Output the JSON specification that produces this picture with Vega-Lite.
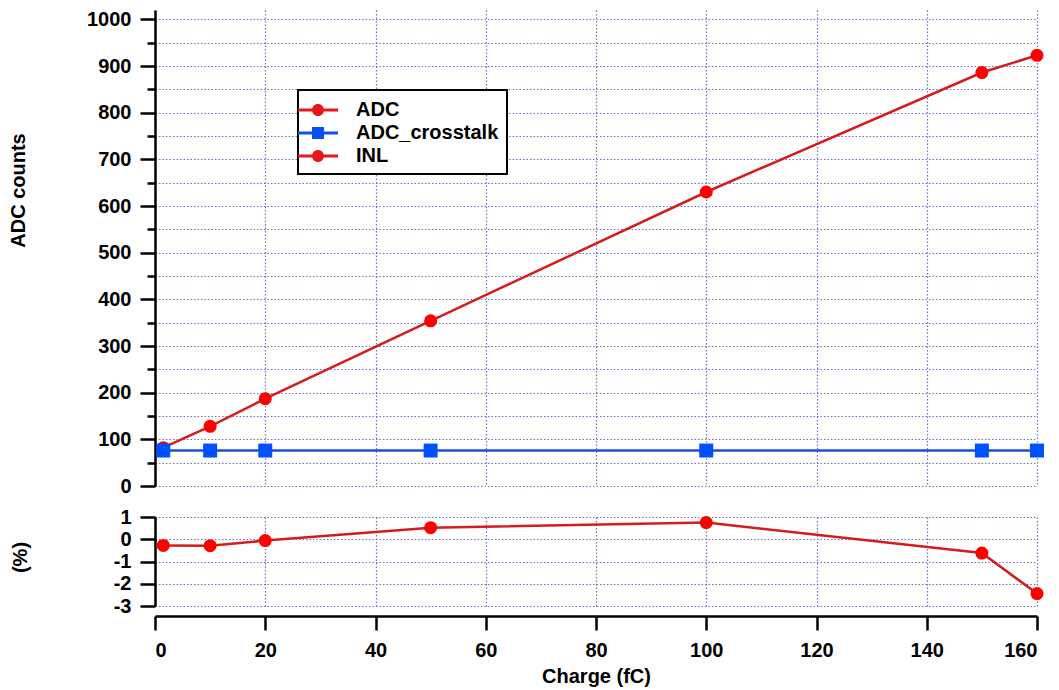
{
  "$schema": "https://vega.github.io/schema/vega-lite/v6.json",
  "padding": {"left": 8, "top": 9, "right": 5, "bottom": 5},
  "bounds": "flush",
  "spacing": 31,
  "datasets": {
    "main": [
      {"series": "ADC", "charge": 1.5, "value": 82},
      {"series": "ADC", "charge": 10, "value": 128},
      {"series": "ADC", "charge": 20, "value": 187},
      {"series": "ADC", "charge": 50, "value": 354},
      {"series": "ADC", "charge": 100, "value": 630},
      {"series": "ADC", "charge": 150, "value": 886},
      {"series": "ADC", "charge": 160, "value": 923},
      {"series": "ADC_crosstalk", "charge": 1.5, "value": 76},
      {"series": "ADC_crosstalk", "charge": 10, "value": 76},
      {"series": "ADC_crosstalk", "charge": 20, "value": 76},
      {"series": "ADC_crosstalk", "charge": 50, "value": 76},
      {"series": "ADC_crosstalk", "charge": 100, "value": 76},
      {"series": "ADC_crosstalk", "charge": 150, "value": 76},
      {"series": "ADC_crosstalk", "charge": 160, "value": 76},
      {"series": "INL", "charge": 1.5, "value": -0.28},
      {"series": "INL", "charge": 10, "value": -0.29},
      {"series": "INL", "charge": 20, "value": -0.06},
      {"series": "INL", "charge": 50, "value": 0.52},
      {"series": "INL", "charge": 100, "value": 0.75},
      {"series": "INL", "charge": 150, "value": -0.62},
      {"series": "INL", "charge": 160, "value": -2.44}
    ]
  },
  "vconcat": [
    {
      "width": 882,
      "height": 476,
      "data": {"name": "main"},
      "encoding": {
        "x": {
          "field": "charge", "type": "quantitative",
          "scale": {"domain": [0, 160], "nice": false, "zero": false},
          "axis": {"values": [0, 20, 40, 60, 80, 100, 120, 140, 160], "labels": false, "ticks": false, "domain": false, "title": null, "grid": true}
        },
        "y": {
          "field": "value", "type": "quantitative",
          "scale": {"domain": [0, 1020], "nice": false, "zero": false},
          "axis": {
            "values": [0, 50, 100, 150, 200, 250, 300, 350, 400, 450, 500, 550, 600, 650, 700, 750, 800, 850, 900, 950, 1000],
            "labelExpr": "datum.value % 100 === 0 ? datum.value + '' : ''",
            "tickSize": {"condition": {"test": "datum.value % 100 === 0", "value": 15}, "value": 8},
            "labelPadding": 9,
            "grid": true,
            "title": "ADC counts",
            "titleAngle": -90,
            "titleX": -137,
            "titleY": 180,
            "titleAlign": "center",
            "titleBaseline": "middle"
          }
        }
      },
      "layer": [
        {
          "transform": [{"filter": "datum.series === 'ADC'"}],
          "mark": {"type": "line", "color": "#d41c1c", "strokeWidth": 2.5}
        },
        {
          "transform": [{"filter": "datum.series === 'ADC'"}],
          "mark": {"type": "point", "shape": "circle", "filled": true, "color": "#ff0000", "size": 170, "opacity": 1}
        },
        {
          "transform": [{"filter": "datum.series === 'ADC_crosstalk'"}],
          "mark": {"type": "line", "color": "#1c4fd8", "strokeWidth": 2.5}
        },
        {
          "transform": [{"filter": "datum.series === 'ADC_crosstalk'"}],
          "mark": {"type": "point", "shape": "square", "filled": true, "color": "#0050ff", "size": 195, "opacity": 1}
        },
        {
          "transform": [{"filter": "false"}],
          "mark": {"type": "point", "filled": true, "opacity": 1},
          "encoding": {
            "color": {
              "field": "series", "type": "nominal",
              "scale": {"domain": ["ADC", "ADC_crosstalk", "INL"], "range": ["#e8161a", "#0a50f0", "#e8161a"]},
              "legend": {
                "title": null,
                "orient": "none",
                "legendX": 143,
                "legendY": 80,
                "fillColor": "white",
                "strokeColor": "black",
                "padding": 8,
                "symbolSize": 576,
                "symbolStrokeWidth": 0,
                "labelOffset": 26,
                "rowPadding": 1,
                "labelFont": "Liberation Sans",
                "labelFontSize": 20,
                "labelFontWeight": "bold",
                "labelColor": "black"
              }
            },
            "shape": {
              "field": "series", "type": "nominal",
              "scale": {
                "domain": ["ADC", "ADC_crosstalk", "INL"],
                "range": [
                  "M-1.667,-0.125L1.667,-0.125L1.667,0.125L-1.667,0.125ZM0.5,0A0.5,0.5,0,1,1,-0.5,0A0.5,0.5,0,1,1,0.5,0Z",
                  "M-1.667,-0.125L1.667,-0.125L1.667,0.125L-1.667,0.125ZM-0.5,-0.5L0.5,-0.5L0.5,0.5L-0.5,0.5Z",
                  "M-1.667,-0.125L1.667,-0.125L1.667,0.125L-1.667,0.125ZM0.5,0A0.5,0.5,0,1,1,-0.5,0A0.5,0.5,0,1,1,0.5,0Z"
                ]
              },
              "legend": {
                "title": null,
                "orient": "none",
                "legendX": 143,
                "legendY": 80,
                "fillColor": "white",
                "strokeColor": "black",
                "padding": 8,
                "symbolSize": 576,
                "symbolStrokeWidth": 0,
                "labelOffset": 26,
                "rowPadding": 1,
                "labelFont": "Liberation Sans",
                "labelFontSize": 20,
                "labelFontWeight": "bold",
                "labelColor": "black"
              }
            }
          }
        }
      ]
    },
    {
      "width": 882,
      "height": 89,
      "data": {"name": "main"},
      "transform": [{"filter": "datum.series === 'INL'"}],
      "encoding": {
        "x": {
          "field": "charge", "type": "quantitative",
          "scale": {"domain": [0, 160], "nice": false, "zero": false},
          "axis": {
            "values": [0, 20, 40, 60, 80, 100, 120, 140, 160],
            "offset": 10,
            "tickSize": 14,
            "labelPadding": 10,
            "grid": true,
            "title": "Charge (fC)",
            "titlePadding": 6
          }
        },
        "y": {
          "field": "value", "type": "quantitative",
          "scale": {"domain": [-3, 1], "nice": false, "zero": false},
          "axis": {
            "values": [-3, -2, -1, 0, 1],
            "labelExpr": "datum.value + ''",
            "tickSize": 15,
            "labelPadding": 9,
            "grid": true,
            "title": "(%)",
            "titleAngle": -90,
            "titleX": -135,
            "titleY": 40,
            "titleAlign": "center",
            "titleBaseline": "middle"
          }
        }
      },
      "layer": [
        {"mark": {"type": "line", "color": "#d41c1c", "strokeWidth": 2.5}},
        {"mark": {"type": "point", "shape": "circle", "filled": true, "color": "#ff0000", "size": 170, "opacity": 1}}
      ]
    }
  ],
  "config": {
    "font": "Liberation Sans",
    "view": {"stroke": null},
    "legend": {"strokeWidth": 2},
    "axis": {
      "labelFont": "Liberation Sans",
      "labelFontSize": 20,
      "labelFontWeight": "bold",
      "labelColor": "black",
      "titleFont": "Liberation Sans",
      "titleFontSize": 20,
      "titleFontWeight": "bold",
      "titleColor": "black",
      "domainColor": "black",
      "domainWidth": 2.5,
      "tickColor": "black",
      "tickWidth": 2.5,
      "gridColor": "#6f6fc4",
      "gridDash": [1.5, 2],
      "gridWidth": 1.2,
      "gridOpacity": 1
    }
  }
}
